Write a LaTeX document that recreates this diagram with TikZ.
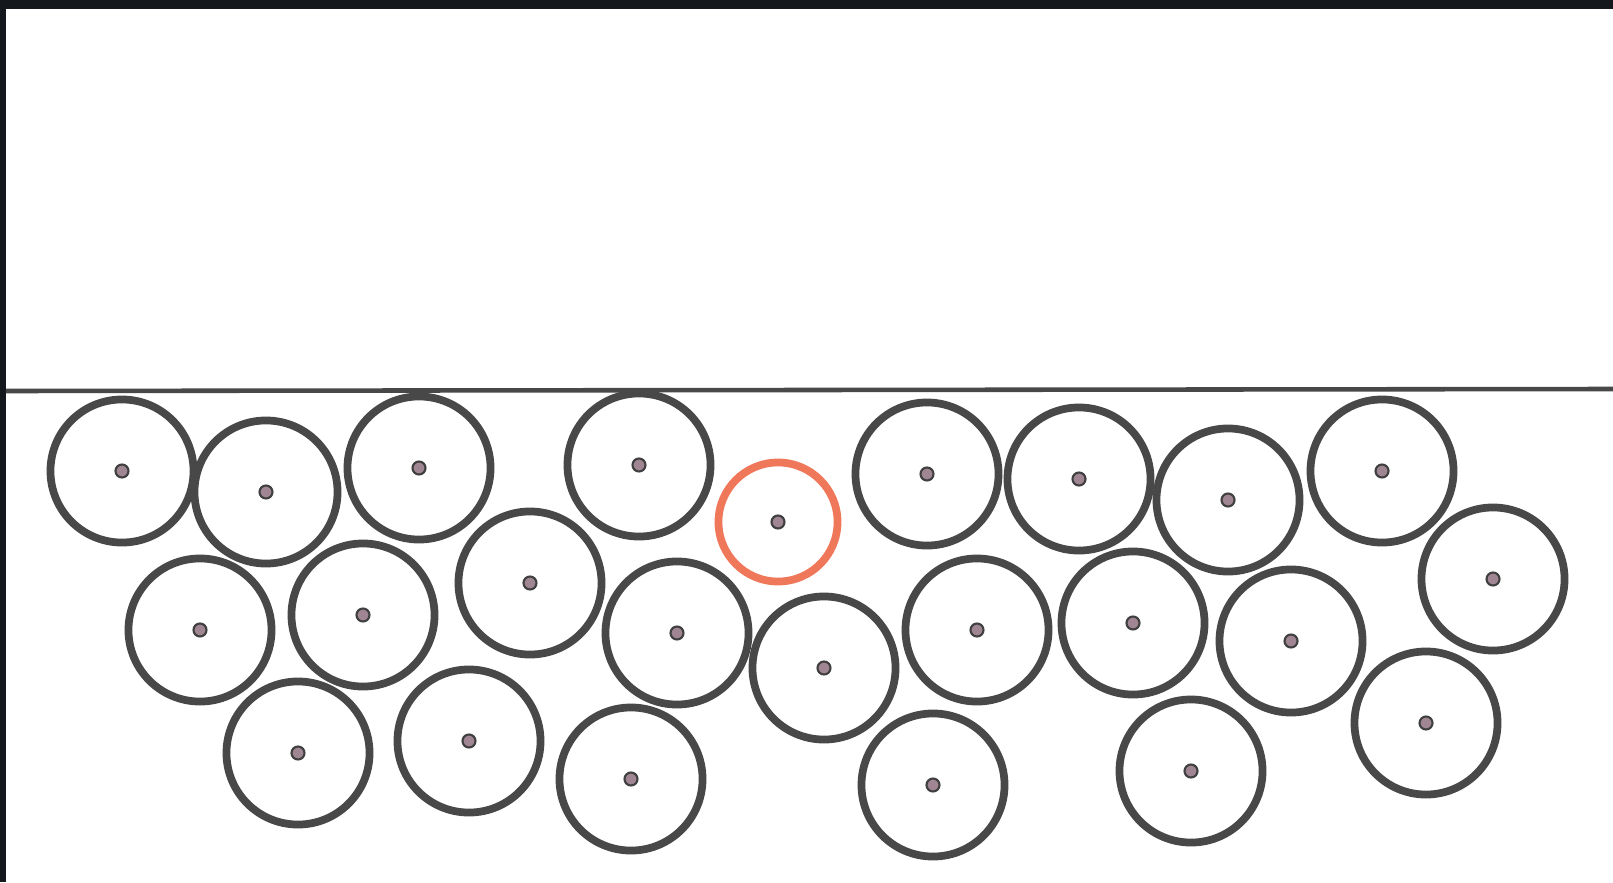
\documentclass[tikz,border=0pt]{standalone}
\usetikzlibrary{positioning}

\definecolor{framedark}{RGB}{20,23,28}
\definecolor{grainline}{RGB}{72,72,72}
\definecolor{coredot}{RGB}{160,134,146}
\definecolor{probered}{RGB}{240,120,90}

\begin{document}
\begin{tikzpicture}[
  x=0.01cm, y=-0.01cm,
  wall/.style={draw=grainline, line width=1.3pt},
  grain/.style={circle, draw=grainline, line width=2.2pt, minimum size=1.43cm, inner sep=0pt},
  probe/.style={circle, draw=probered, line width=2.2pt, minimum size=1.19cm, inner sep=0pt},
  core/.style={circle, draw=black!75, fill=coredot, line width=0.6pt, minimum size=0.13cm, inner sep=0pt}
]

% Canvas and dark frame edges.
\fill[white] (0,0) rectangle (1613,882);
\fill[framedark] (0,0) rectangle (1613,9);
\fill[framedark] (0,0) rectangle (6,882);
\useasboundingbox (0,0) rectangle (1613,882);

% Flat surface line.
\coordinate (wallL) at (6,391);
\coordinate (wallR) at (1613,389);
\draw[wall] (wallL) -- (wallR);

% Packed grains with centre dots.
\foreach \x/\y [count=\i] in {
  122/471, 266/492, 419/468, 639/465, 927/474, 1079/479, 1228/500, 1382/471, 1493/579,
  200/630, 363/615, 530/583, 677/633, 824/668, 977/630, 1133/623, 1291/641, 1426/723,
  298/753, 469/741, 631/779, 933/785, 1191/771}
{
  \node[grain] (g\i) at (\x,\y) {};
  \node[core] (c\i) at (g\i.center) {};
}

% Highlighted grain.
\node[probe] (red) at (778,522) {};
\node[core] (redcore) at (red.center) {};

\end{tikzpicture}
\end{document}
